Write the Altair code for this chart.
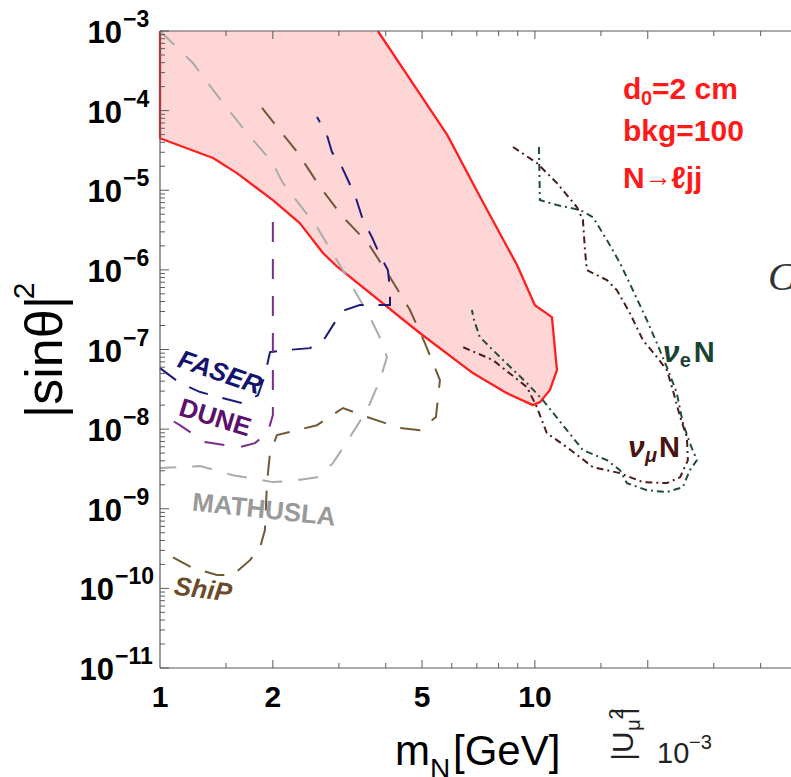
import altair as alt
import pandas as pd

# ---------------- data ----------------
# excluded region (d0 = 2 cm, bkg = 100, N -> l j j), outline starting on the top edge
region_m = [3.81, 5.83, 7.22, 8.96, 10.0, 11.1, 11.45, 10.96, 10.31, 9.88, 8.42, 6.83,
            4.94, 2.98, 2.72, 2.36, 2.0, 1.604, 1.385, 1.0, 1.0]
region_s = [1e-3, 5.0e-5, 7.5e-6, 1.15e-6, 3.6e-7, 2.55e-7, 5.5e-8, 3.09e-8, 2.18e-8, 2.0e-8,
            2.83e-8, 5.06e-8, 1.6e-7, 1.08e-6, 1.63e-6, 3.87e-6, 7.5e-6, 1.64e-5, 2.54e-5,
            4.5e-5, 1e-3]

mathusla_m = [1.0, 1.224, 1.472, 1.706, 1.99, 2.128, 2.623, 3.152, 3.63, 3.91, 4.03, 3.86,
              3.565, 3.21, 2.893, 2.623, 2.22, 2.0, 1.565, 1.28, 1.0]
mathusla_s = [1e-3, 3.96e-4, 1.25e-4, 5.24e-5, 2.26e-5, 1.23e-5, 3.45e-6, 8.1e-7, 2.55e-7,
              1.24e-7, 8.0e-8, 4.13e-8, 1.73e-8, 7.94e-9, 3.74e-9, 2.49e-9, 2.22e-9, 2.16e-9,
              2.64e-9, 3.43e-9, 3.24e-9]

ship_m = [1.871, 2.333, 2.672, 3.076, 3.587, 4.107, 4.642, 5.089, 5.58, 5.445, 4.94, 4.37,
          3.565, 3.076, 2.623, 2.319, 2.051, 1.965, 1.929, 1.905, 1.85, 1.738, 1.565, 1.419,
          1.224, 1.0]
ship_s = [1.08e-4, 2.93e-5, 1.1e-5, 4.6e-6, 2.17e-6, 8.1e-7, 3.13e-7, 1.2e-7, 4.13e-8, 1.42e-8,
          9.7e-9, 1.03e-8, 1.42e-8, 1.84e-8, 1.12e-8, 9.7e-9, 8.4e-9, 5.0e-9, 2.1e-9, 5.4e-10,
          3.3e-10, 2.26e-10, 1.47e-10, 1.47e-10, 1.8e-10, 3.0e-10]

faser_m = [1.0, 1.13, 1.28, 1.654, 1.825, 1.905, 1.965, 2.154, 2.512, 2.754, 2.929, 3.113,
           3.41, 4.107, 4.107, 4.055, 3.86, 3.675, 3.478, 3.311, 3.057, 2.875, 2.788, 2.623]
faser_s = [5.83e-8, 3.79e-8, 2.92e-8, 2.12e-8, 2.67e-8, 4.76e-8, 9.27e-8, 9.8e-8, 1.04e-7,
           1.39e-7, 2.21e-7, 3.13e-7, 3.61e-7, 3.61e-7, 5.57e-7, 9.9e-7, 1.53e-6, 2.58e-6,
           4.22e-6, 8.7e-6, 1.95e-5, 3.02e-5, 4.93e-5, 8.3e-5]

dune_m = [2.0, 2.0, 1.941, 1.792, 1.635, 1.318, 1.13, 1.0]
dune_s = [3.98e-6, 1.5e-8, 9.2e-9, 6.67e-9, 5.94e-9, 6.87e-9, 1.12e-8, 1.59e-8]

nue_m = [10.25, 10.31, 11.45, 13.2, 14.28, 15.56, 16.86, 18.25, 19.89, 21.15, 22.49, 23.91,
         24.81, 25.9, 27.04, 25.9, 24.81, 22.49, 19.89, 17.59, 16.86, 15.56, 13.43, 12.17,
         10.5, 9.52, 8.07, 7.13, 6.88, 6.79]
nue_s = [3.49e-5, 7.53e-6, 6.52e-6, 5.64e-6, 4.6e-6, 2.37e-6, 1.22e-6, 5.57e-7, 2.34e-7,
         1.2e-7, 6.0e-8, 2.83e-8, 1.19e-8, 6.67e-9, 4.08e-9, 3.05e-9, 1.87e-9, 1.62e-9,
         1.71e-9, 2.1e-9, 3.05e-9, 4.08e-9, 5.45e-9, 9.7e-9, 2.31e-8, 3.79e-8, 8.04e-8,
         1.43e-7, 2.34e-7, 3.13e-7]

numu_m = [8.74, 10.12, 11.45, 12.94, 13.43, 13.6, 13.76, 15.56, 16.54, 17.92, 19.41, 21.15,
          22.49, 23.33, 24.4, 25.43, 25.59, 24.4, 22.49, 19.41, 16.86, 14.28, 12.17, 10.76,
          10.12, 9.52, 7.73, 6.43]
numu_s = [3.49e-5, 2.2e-5, 1.23e-5, 6.15e-6, 4.22e-6, 1.77e-6, 9.93e-7, 7.45e-7, 5.57e-7,
          2.86e-7, 1.31e-7, 8.04e-8, 5.5e-8, 3.09e-8, 1.42e-8, 7.93e-9, 4.08e-9, 2.49e-9,
          2.1e-9, 2.16e-9, 2.8e-9, 3.33e-9, 5.94e-9, 8.9e-9, 1.89e-8, 3.37e-8, 7.36e-8, 1.07e-7]

# axis ticks and labels
x_label_vals = [1, 2, 5, 10]
x_label_text = ["1", "2", "5", "10"]
x_major_ticks = [2, 5, 10, 20]
x_minor_ticks = [1.5, 3, 4, 6, 7, 8, 9, 15, 30, 40]
y_exponents = [-3, -4, -5, -6, -7, -8, -9, -10, -11]
y_minor_mult = [2, 3, 4, 5, 6, 7, 8, 9]

# ---------------- scales ----------------
W, H = 631, 637
XS = alt.Scale(type="log", domain=[1, 48.2], nice=False)
YS = alt.Scale(type="log", domain=[1e-11, 1e-3], nice=False)
SANS = "Liberation Sans"
FRAME = "#5a5a5a"


def curve(ms, ss):
    return pd.DataFrame({"m": ms, "s": ss, "i": list(range(len(ms)))})


def path(ms, ss, **mark):
    return alt.Chart(curve(ms, ss)).mark_line(**mark).encode(
        x=alt.X("m:Q", scale=XS, axis=None),
        y=alt.Y("s:Q", scale=YS, axis=None),
        order=alt.Order("i:Q"),
    )


def note(text, m, s, **mark):
    df = pd.DataFrame({"m": [m], "s": [s], "t": [text]})
    return alt.Chart(df).mark_text(**mark).encode(
        x=alt.X("m:Q", scale=XS, axis=None),
        y=alt.Y("s:Q", scale=YS, axis=None),
        text="t:N",
    )


def fixed_text(text, x, y, **mark):
    df = pd.DataFrame({"t": [text]})
    return alt.Chart(df).mark_text(**mark).encode(
        x=alt.value(x), y=alt.value(y), text="t:N"
    )


layers = []

# shaded region with its red boundary
layers.append(path(region_m, region_s, fill="#ffd6d6", stroke="#ff1f1f",
                   strokeWidth=2.3, strokeJoin="round"))

# projected sensitivities of other experiments
layers.append(path(mathusla_m, mathusla_s, stroke="#ababab", strokeWidth=2.0,
                   strokeDash=[20, 16]))
layers.append(path(ship_m, ship_s, stroke="#735736", strokeWidth=2.0, strokeDash=[20, 15]))
layers.append(path(faser_m, faser_s, stroke="#1b1b7c", strokeWidth=2.0, strokeDash=[20, 15]))
layers.append(path(dune_m, dune_s, stroke="#7a2e8c", strokeWidth=2.0, strokeDash=[20, 17]))
layers.append(path(nue_m, nue_s, stroke="#224d3e", strokeWidth=2.0, strokeDash=[7, 4, 2, 4]))
layers.append(path(numu_m, numu_s, stroke="#4a1c1a", strokeWidth=2.0, strokeDash=[7, 4, 2, 4]))

# experiment names
layers.append(note("FASER", 1.445, 5.06e-8, font=SANS, fontSize=26, fontWeight="bold",
                   fontStyle="italic", color="#141470", angle=19, align="center",
                   baseline="middle"))
layers.append(note("DUNE", 1.402, 1.37e-8, font=SANS, fontSize=26, fontWeight="bold",
                   color="#5c0f6b", angle=17, align="center", baseline="middle"))
layers.append(note("MATHUSLA", 1.894, 9.6e-10, font=SANS, fontSize=26, fontWeight="bold",
                   color="#999999", angle=6, align="center", baseline="middle"))
layers.append(note("ShiP", 1.302, 9.5e-11, font=SANS, fontSize=26, fontWeight="bold",
                   fontStyle="italic", color="#6b4a2a", angle=7, align="center",
                   baseline="middle"))

# nu_e N and nu_mu N labels (letter, subscript, N)
for (sub, m, s, col) in [("e", 21.94, 6.95e-8, "#1b4333"), ("μ", 17.7, 4.45e-9, "#4a1410")]:
    layers.append(note("ν", m, s, font=SANS, fontSize=30, fontWeight="bold",
                       fontStyle="italic", color=col, align="left", baseline="alphabetic"))
    layers.append(note(sub, m, s, font=SANS, fontSize=20, fontWeight="bold",
                       fontStyle="italic" if sub == "μ" else "normal", color=col,
                       align="left", baseline="alphabetic", dx=17, dy=5))
    layers.append(note("N", m, s, font=SANS, fontSize=29, fontWeight="bold", color=col,
                       align="left", baseline="alphabetic", dx=31))

# red annotation block
RED = "#ff1a1a"
layers.append(fixed_text("d", 463, 68, font=SANS, fontSize=30, fontWeight="bold", color=RED,
                         align="left", baseline="alphabetic"))
layers.append(fixed_text("0", 481, 74, font=SANS, fontSize=20, fontWeight="bold", color=RED,
                         align="left", baseline="alphabetic"))
layers.append(fixed_text("=2 cm", 492, 68, font=SANS, fontSize=30, fontWeight="bold",
                         color=RED, align="left", baseline="alphabetic"))
layers.append(fixed_text("bkg=100", 463, 110, font=SANS, fontSize=30, fontWeight="bold",
                         color=RED, align="left", baseline="alphabetic"))
layers.append(fixed_text("N", 463, 157, font=SANS, fontSize=30, fontWeight="bold",
                         color=RED, align="left", baseline="alphabetic"))
layers.append(fixed_text("→", 498, 155, font=SANS, fontSize=28, fontWeight="bold",
                         color=RED, align="center", baseline="alphabetic"))
layers.append(fixed_text("ℓjj", 511, 157, font=SANS, fontSize=30, fontWeight="bold",
                         color=RED, align="left", baseline="alphabetic"))

# frame (left, bottom, top)
frame_y = pd.DataFrame({"s": [1e-11, 1e-3]})
layers.append(alt.Chart(frame_y).mark_rule(color=FRAME, strokeWidth=1.2).encode(
    y=alt.Y("s:Q", scale=YS, axis=None), x=alt.value(0), x2=alt.value(W)))
frame_x = pd.DataFrame({"m": [1]})
layers.append(alt.Chart(frame_x).mark_rule(color=FRAME, strokeWidth=1.2).encode(
    x=alt.X("m:Q", scale=XS, axis=None), y=alt.value(0), y2=alt.value(H)))

# inward ticks on bottom and top edges
for vals, ln in [(x_major_ticks, 8), (x_minor_ticks, 5)]:
    dft = pd.DataFrame({"m": vals})
    for y0, y1 in [(H, H - ln), (0, ln)]:
        layers.append(alt.Chart(dft).mark_rule(color=FRAME, strokeWidth=1).encode(
            x=alt.X("m:Q", scale=XS, axis=None), y=alt.value(y0), y2=alt.value(y1)))

# inward ticks on the left edge
y_major = [10.0 ** e for e in y_exponents]
y_minor = [k * 10.0 ** e for e in y_exponents[1:] for k in y_minor_mult]
for vals, ln in [(y_major, 9), (y_minor, 5)]:
    dft = pd.DataFrame({"s": vals})
    layers.append(alt.Chart(dft).mark_rule(color=FRAME, strokeWidth=1).encode(
        y=alt.Y("s:Q", scale=YS, axis=None), x=alt.value(0), x2=alt.value(ln)))

# x tick labels
xl = pd.DataFrame({"m": x_label_vals, "t": x_label_text})
layers.append(alt.Chart(xl).mark_text(font=SANS, fontSize=30, fontWeight="bold",
                                      color="black", align="center",
                                      baseline="alphabetic").encode(
    x=alt.X("m:Q", scale=XS, axis=None), y=alt.value(676), text="t:N"))

# y tick labels: "10" with a raised exponent
yl = pd.DataFrame({"s": y_major,
                   "base": ["10"] * len(y_exponents),
                   "exp": ["−" + str(-e) for e in y_exponents],
                   "two": [abs(e) >= 10 for e in y_exponents]})
for two, x10 in [(False, -38), (True, -46)]:
    sub = yl[yl["two"] == two]
    layers.append(alt.Chart(sub).mark_text(font=SANS, fontSize=31, fontWeight="bold",
                                           color="black", align="right",
                                           baseline="alphabetic", dy=12).encode(
        y=alt.Y("s:Q", scale=YS, axis=None), x=alt.value(x10), text="base:N"))
    layers.append(alt.Chart(sub).mark_text(font=SANS, fontSize=23, fontWeight="bold",
                                           color="black", align="left",
                                           baseline="alphabetic", dy=-4).encode(
        y=alt.Y("s:Q", scale=YS, axis=None), x=alt.value(x10 + 1), text="exp:N"))

# axis titles
layers.append(fixed_text("|sinθ|", -98, 326, font=SANS, fontSize=52, color="black",
                         angle=270, align="center", baseline="alphabetic"))
layers.append(fixed_text("2", -126, 260, font=SANS, fontSize=30, color="black",
                         angle=270, align="center", baseline="alphabetic"))
layers.append(fixed_text("m", 235, 734, font=SANS, fontSize=42, color="black",
                         align="left", baseline="alphabetic"))
layers.append(fixed_text("N", 270, 747, font=SANS, fontSize=28, color="black",
                         align="left", baseline="alphabetic"))
layers.append(fixed_text("[GeV]", 293, 734, font=SANS, fontSize=42, color="black",
                         align="left", baseline="alphabetic"))

# pieces of the neighbouring panel at the right edge
layers.append(fixed_text("C", 608, 259, font="Liberation Serif", fontSize=40,
                         fontStyle="italic", color="#333333", align="left",
                         baseline="alphabetic"))
layers.append(fixed_text("|U", 473, 715, font=SANS, fontSize=30, color="#222222",
                         angle=270, align="center", baseline="alphabetic"))
layers.append(fixed_text("μ", 480, 694, font=SANS, fontSize=20, color="#222222",
                         angle=270, align="center", baseline="alphabetic"))
layers.append(fixed_text("|", 473, 680, font=SANS, fontSize=30, color="#222222",
                         angle=270, align="center", baseline="alphabetic"))
layers.append(fixed_text("2", 463, 683, font=SANS, fontSize=20, color="#222222",
                         angle=270, align="center", baseline="alphabetic"))
layers.append(fixed_text("10", 497, 732, font=SANS, fontSize=29, color="#222222",
                         align="left", baseline="alphabetic"))
layers.append(fixed_text("−3", 529, 718, font=SANS, fontSize=20, color="#222222",
                         align="left", baseline="alphabetic"))

chart = alt.layer(*layers).properties(
    width=W,
    height=H,
    padding={"left": 160, "top": 31, "right": 0, "bottom": 109},
    autosize=alt.AutoSizeParams(type="none"),
).configure_view(stroke=None)

chart.save("out.html", embed_options={"renderer": "svg", "actions": False})
